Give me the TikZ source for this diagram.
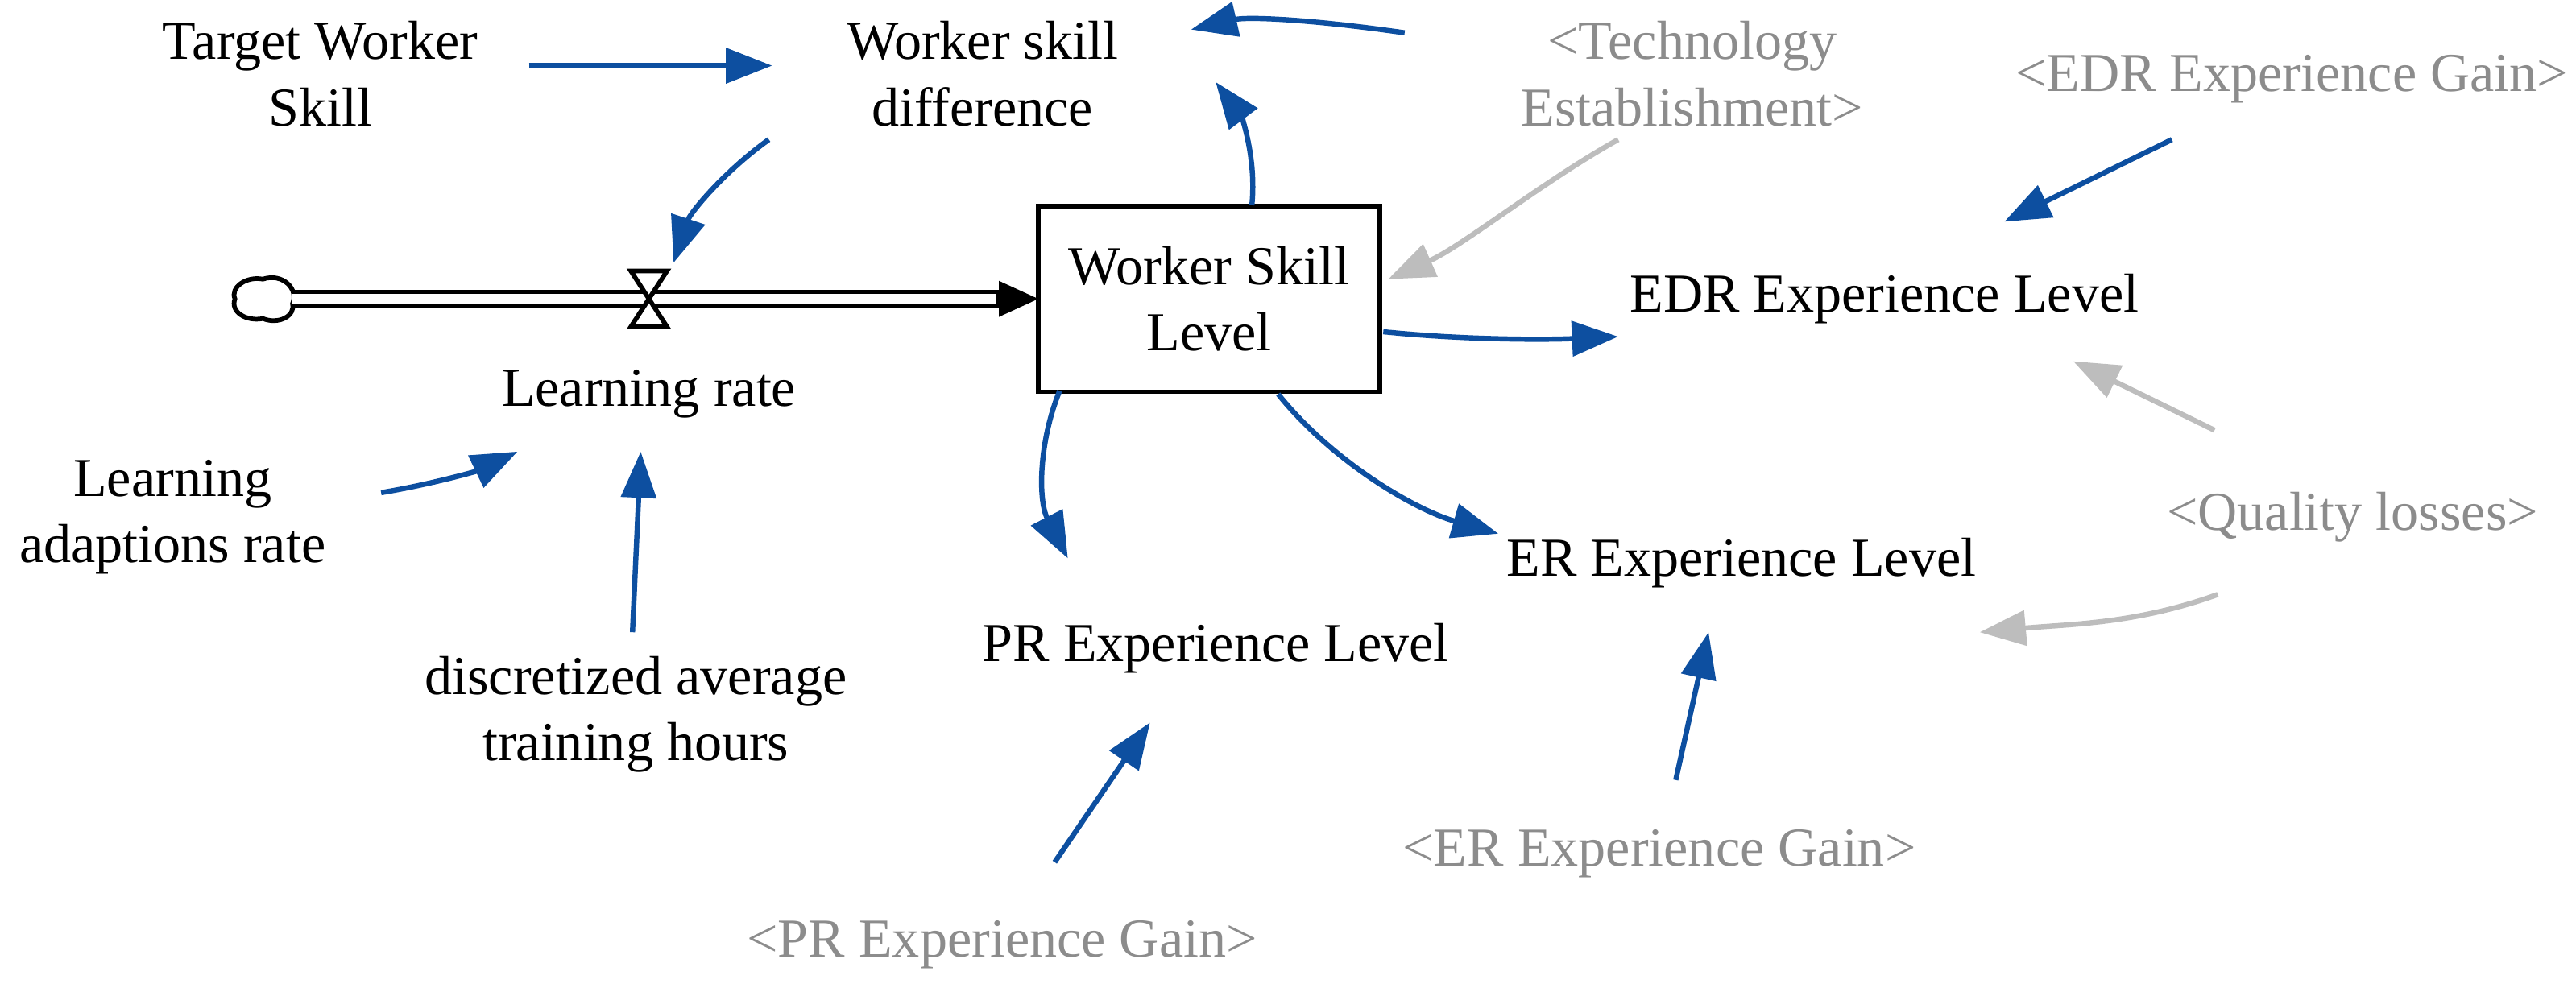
\documentclass[tikz,border=0pt]{standalone}
\usepackage{fontspec}
\setmainfont{Liberation Serif}
\usetikzlibrary{arrows.meta}
\definecolor{ablue}{HTML}{0D4FA0}
\definecolor{gtext}{HTML}{8C8C8C}
\definecolor{garrow}{HTML}{BDBDBD}
\begin{document}
\begin{tikzpicture}[x=0.01cm,y=-0.01cm,
  every node/.style={font=\fontsize{9.5}{11.5}\selectfont,align=center,inner sep=1pt},
  var/.style={text=black},
  gvar/.style={text=gtext},
  bl/.style={draw=ablue,line width=0.9pt,-{Triangle[length=8pt,width=6pt]}},
  gl/.style={draw=garrow,line width=0.9pt,-{Triangle[length=8pt,width=6pt]}}]
\useasboundingbox (0,0) rectangle (1568,604);
\node[var] (tws) at (195,45) {Target Worker\\Skill};
\node[var] (wsd) at (598,45) {Worker skill\\difference};
\node[gvar] (te) at (1030,45) {<Technology\\Establishment>};
\node[gvar] (edrg) at (1395,48) {<EDR Experience Gain>};
\node[draw,line width=0.8pt,minimum width=2.08cm,minimum height=1.13cm] (wsl) at (736,182) {Worker Skill\\Level};
\node[var] (edrl) at (1147,182) {EDR Experience Level};
\node[var] (lr) at (395,240) {Learning rate};
\node[var] (lar) at (105,315) {Learning\\adaptions rate};
\node[gvar] (ql) at (1432,315) {<Quality losses>};
\node[var] (erl) at (1060,343) {ER Experience Level};
\node[var] (prl) at (740,395) {PR Experience Level};
\node[var] (dat) at (387,435) {discretized average\\training hours};
\node[gvar] (erg) at (1010,520) {<ER Experience Gain>};
\node[gvar] (prg) at (610,575) {<PR Experience Gain>};
% flow
\coordinate (cl) at (178,182);
\coordinate (v) at (395,182);
\draw[line width=0.8pt] (160,170) .. controls (150,168) and (140,175) .. (143,182) .. controls (140,190) and (150,196) .. (160,194) .. controls (170,198) and (180,192) .. (178,185) .. controls (182,176) and (172,166) .. (160,170);
\draw[line width=3.2pt] (cl) -- (608,182);
\draw[line width=1.6pt,white] (cl) -- (606,182);
\fill (608,171) -- (632,182) -- (608,193) -- cycle;
\draw[line width=0.8pt,fill=white] (384,165) -- (406,165) -- (384,199) -- (406,199) -- cycle;
% connectors
\draw[bl] (322,40) -- (470,40);
\coordinate (tes) at (855,20);
\draw[bl] (tes) .. controls (800,12) and (760,10) .. (725,18);
\draw[bl] (762,125) .. controls (765,95) and (755,70) .. (740,50);
\draw[bl] (468,85) .. controls (440,105) and (420,130) .. (410,160);
\draw[gl] (985,85) .. controls (940,110) and (890,150) .. (845,170);
\draw[bl] (1322,85) -- (1220,135);
\draw[bl] (842,202) .. controls (890,207) and (940,207) .. (985,205);
\draw[bl] (645,238) .. controls (632,270) and (632,305) .. (650,340);
\draw[bl] (778,240) .. controls (810,280) and (860,310) .. (912,325);
\draw[gl] (1348,262) -- (1262,220);
\draw[gl] (1350,362) .. controls (1300,380) and (1260,380) .. (1205,385);
\draw[bl] (1020,475) -- (1040,385);
\draw[bl] (642,525) -- (700,440);
\draw[bl] (385,385) -- (390,275);
\draw[bl] (232,300) .. controls (262,295) and (290,287) .. (315,275);
\end{tikzpicture}
\end{document}
